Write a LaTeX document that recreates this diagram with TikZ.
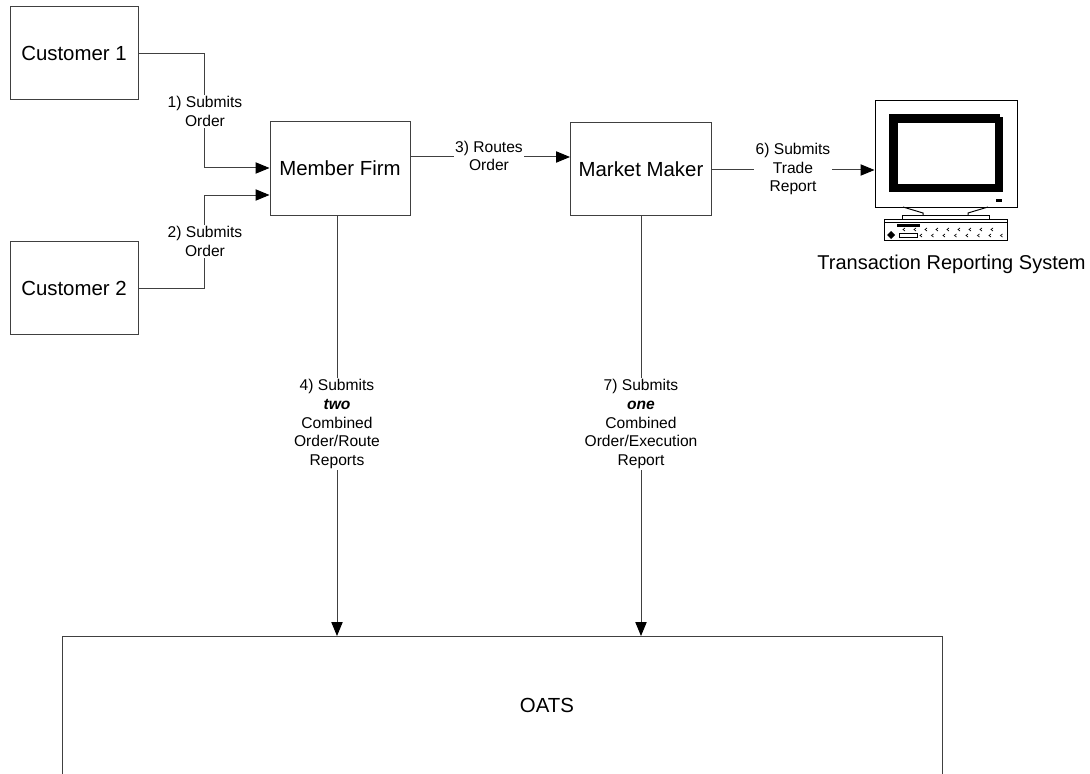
\documentclass[tikz,border=0pt]{standalone}
\usepackage{fontspec}
\setmainfont{Liberation Sans}
\usetikzlibrary{arrows.meta}

\begin{document}
\begin{tikzpicture}[x=0.75pt,y=-0.75pt,
		line width=0.75pt,
		box/.style={draw=black!75,fill=white,font=\fontsize{15.3}{18}\selectfont,
			minimum width=#1,minimum height=93*0.75pt,inner sep=0pt},
		lbl/.style={fill=white,align=center,inner sep=1pt,
			font=\fontsize{11.7}{14}\selectfont},
		arr/.style={draw=black!75,-{Triangle[length=10.5pt,width=8.5pt,color=black]}},
		wire/.style={draw=black!75}]
		
		\useasboundingbox (0,0) rectangle (1090,774);
		\clip (0,0) rectangle (1090,774);
		
		% the boxes
		\node[box=128*0.75pt] (cust1) at (74,53.5) {Customer 1};
		\node[box=128*0.75pt] (cust2) at (74,288) {Customer 2};
		\node[box=140*0.75pt] (firm) at (340,168.5) {Member Firm};
		\node[box=141*0.75pt] (maker) at (641,169) {Market Maker};
		\node[box=880*0.75pt,minimum height=260*0.75pt,anchor=north] (oats) at (502,636) {};
		\node[font=\fontsize{15.3}{18}\selectfont] (oatstxt) at (547,705) {OATS};
		
		\coordinate (j1) at (204,168);
		\coordinate (j2) at (204,195);
		\coordinate (r3) at (490,157);
		\coordinate (r6) at (790,170);
		
		\draw[arr] (cust1.east) -| (j1) -- (firm.west |- j1);
		\draw[arr] (cust2.east) -| (j2) -- (firm.west |- j2);
		\draw[arr] (firm.east |- r3) -- (maker.west |- r3);
		\draw[arr] (firm.south -| 337,0) -- (oats.north -| 337,0);
		\draw[arr] (maker.south) -- (oats.north -| maker.south);
		
		% the terminal
		\node[draw=black,fill=white,minimum width=142*0.75pt,minimum height=106*0.75pt,
			inner sep=0pt] (trs) at (946,154) {};
		\draw[arr] (maker.east |- r6) -- (trs.west |- r6);
		\fill[black] (889,114) rectangle (1003,192);
		\fill[white] (898,123) rectangle (995,184);
		\fill[white] (1000,114) rectangle (1003,117);
		\fill[black] (996,199) rectangle (1002,202);
		\draw[black] (903,207) -- (923,213) -- (923,215) (988,207) -- (968,213) -- (968,215);
		\draw[black] (902,215) rectangle (989,219);
		\draw[black] (884,219) rectangle (1007,240);
		\draw[black] (884,222) -- (1007,222);
		\fill[black] (897,224) rectangle (920,227);
		\fill[black] (891,231) -- (895,235) -- (891,239) -- (887,235) -- cycle;
		\draw[black,line width=0.5pt] (899,233) rectangle (917,237);
		\foreach \k in {0,...,8}
			\draw[black,line width=0.5pt] (905+11*\k,228) -- (903+11*\k,229.5) -- (905+11*\k,231);
		\foreach \k in {0,...,7}
			\draw[black,line width=0.5pt] (922+11.5*\k,234) -- (920+11.5*\k,235.5) -- (922+11.5*\k,237);
		\node[font=\fontsize{15}{18}\selectfont] (trstxt) at (951.5,264) {Transaction Reporting System};
		
		% labels on the connectors
		\node[lbl] (l1) at (205,111.5) {1) Submits\\Order};
		\node[lbl] (l2) at (205,241.5) {2) Submits\\Order};
		\node[lbl] (l3) at (489,156) {3) Routes\\Order};
		\node[lbl] (l6) at (793,169) {6) Submits\\Trade\\Report};
		\node[lbl] (l4) at (337,424) {4) Submits\\\textbf{\textit{two}}\\Combined\\Order/Route\\Reports};
		\node[lbl] (l7) at (641,424) {7) Submits\\\textbf{\textit{one}}\\Combined\\Order/Execution\\Report};
		
\end{tikzpicture}
\end{document}
